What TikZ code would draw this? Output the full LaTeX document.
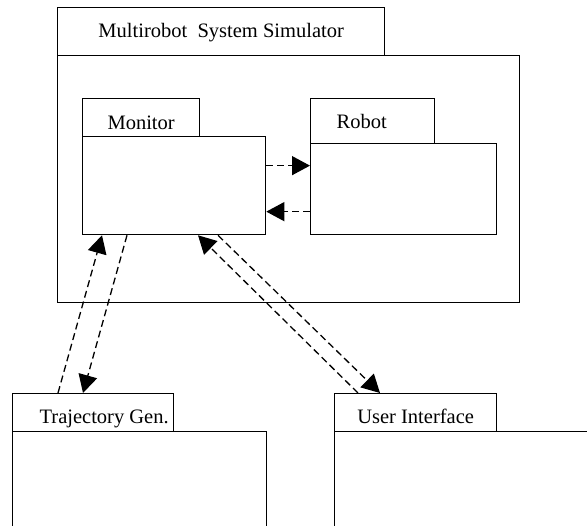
\documentclass[tikz,border=0pt]{standalone}
\usepackage{fontspec}
\setmainfont{Liberation Serif}
\usetikzlibrary{arrows.meta}

\begin{document}
\begin{tikzpicture}[x=1pt,y=-1pt,
  box/.style={draw,line width=1.3pt,inner sep=0pt,anchor=north west},
  lbl/.style={anchor=base,inner sep=0pt,font=\fontsize{20.5}{24}\selectfont},
  flow/.style={line width=1.3pt,dash pattern=on 7pt off 4pt,
    -{Triangle[length=18pt,width=19pt]}}]
  \useasboundingbox (0,0) rectangle (587,526);
  \clip (0,0) rectangle (587,526);
  % simulator package
  \node[box,minimum width=327pt,minimum height=48pt] (systab) at (57,7) {};
  \node[box,minimum width=462pt,minimum height=247pt] (sysbody) at (57,55) {};
  \node[lbl] (syslbl) at ([yshift=19pt]systab.south) {Multirobot\ \ System Simulator};
  % monitor and robot inside
  \node[box,minimum width=117pt,minimum height=38pt] (montab) at (82,98) {};
  \node[box,minimum width=183pt,minimum height=98pt] (monbody) at (82,136) {};
  \node[lbl] (monlbl) at ([yshift=8pt]montab.south) {Monitor};
  \node[box,minimum width=124pt,minimum height=45pt] (robtab) at (310,98) {};
  \node[box,minimum width=186pt,minimum height=91pt] (robbody) at (310,143) {};
  \node[lbl] (roblbl) at ([xshift=-11pt,yshift=16pt]robtab.south) {Robot};
  % outside packages
  \node[box,minimum width=161pt,minimum height=38pt] (trajtab) at (12,393) {};
  \node[box,minimum width=254pt,minimum height=120pt] (trajbody) at (12,431) {};
  \node[lbl] (trajlbl) at ([xshift=11pt,yshift=9pt]trajtab.south) {Trajectory Gen.};
  \node[box,minimum width=162pt,minimum height=38pt] (uitab) at (334,393) {};
  \node[box,minimum width=280pt,minimum height=120pt] (uibody) at (334,431) {};
  \node[lbl] (uilbl) at ([yshift=9pt]uitab.south) {User Interface};

  % monitor <-> robot
  \coordinate (m1) at ([yshift=20pt]monbody.east);
  \coordinate (m2) at ([yshift=-26pt]monbody.east);
  \draw[flow] (m1) -- (m1 -| robbody.west);
  \draw[flow] (m2 -| robbody.west) -- (m2);
  % monitor <-> trajectory generator
  \draw[flow] ([xshift=46pt]trajtab.north west) -- ([xshift=20pt]monbody.south west);
  \draw[flow] ([xshift=45pt]monbody.south west) -- ([xshift=71pt]trajtab.north west);
  % monitor <-> user interface
  \draw[flow] ([xshift=24pt]uitab.north west) -- ([xshift=116pt]monbody.south west);
  \draw[flow] ([xshift=136pt]monbody.south west) -- ([xshift=46pt]uitab.north west);
\end{tikzpicture}
\end{document}
